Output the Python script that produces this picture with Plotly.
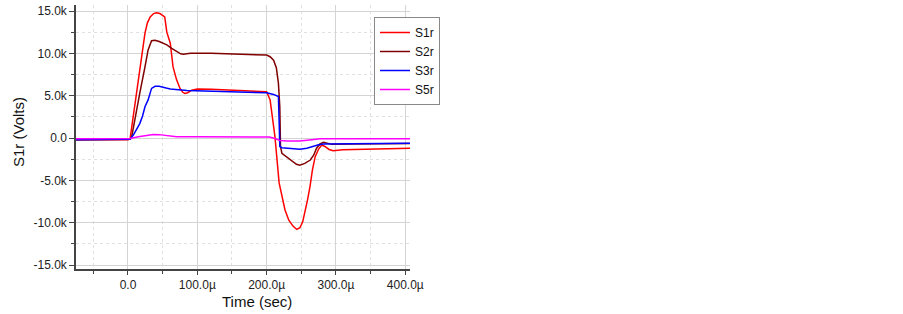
import plotly.graph_objects as go

# Time in microseconds, values in kV
s1_t = [-75, -40, 0, 3, 10, 17, 24.5, 28, 32, 37, 41, 46, 50, 53, 56, 61, 65, 70, 75, 79, 82, 86, 92, 100, 120, 150, 180, 200,
        205, 212, 218, 222, 226.5, 232, 238, 243.4, 248, 252, 255, 259, 262.6, 266, 270, 275, 279.5, 284, 290, 296, 310, 350, 407]
s1_v = [-0.2, -0.2, -0.2, -0.1, 4.0, 8.6, 12.4, 13.6, 14.3, 14.7, 14.8, 14.7, 14.5, 14.3, 12.5, 11.2, 8.4, 6.9, 5.86, 5.4, 5.27, 5.35, 5.66, 5.8, 5.75, 5.65, 5.55, 5.46,
        4.5, 0.15, -5.3, -7.0, -8.5, -9.7, -10.4, -10.8, -10.6, -9.9, -8.9, -7.3, -5.7, -3.8, -2.2, -1.3, -0.83, -1.0, -1.35, -1.5, -1.4, -1.3, -1.2]

s2_t = [-75, -40, 0, 3, 5, 10, 17, 24.5, 29, 34, 39, 45, 56, 63, 70, 76, 80, 90, 120, 150, 180, 195, 200, 205, 210, 214, 217, 219,
        220, 222, 229, 236, 243, 248, 255, 263, 268, 272, 277, 282, 288, 294, 320, 360, 407]
s2_v = [-0.2, -0.2, -0.2, -0.15, 0.0, 2.3, 5.3, 8.4, 10.4, 11.5, 11.55, 11.4, 11.0, 10.6, 10.2, 9.95, 9.9, 10.0, 10.0, 9.95, 9.9, 9.85, 9.8, 9.6, 9.2, 8.3, 6.45, 3.7,
        -1.0, -1.8, -2.2, -2.7, -3.1, -3.2, -3.0, -2.6, -2.0, -1.2, -0.7, -0.5, -0.65, -0.75, -0.72, -0.7, -0.65]

s3_t = [-75, -40, 0, 3, 7.7, 12, 17, 21, 24.5, 29, 34, 39, 45, 55, 61, 85, 120, 160, 200, 210, 217, 218, 219,
        222, 235, 248, 258, 267, 275, 282, 300, 350, 407]
s3_v = [-0.2, -0.2, -0.2, -0.15, 0.35, 1.0, 1.7, 2.6, 3.7, 4.5, 5.86, 6.1, 6.1, 5.9, 5.8, 5.6, 5.55, 5.45, 5.35, 5.15, 4.9, 2.0, -1.0,
        -1.15, -1.25, -1.33, -1.2, -0.95, -0.8, -0.7, -0.7, -0.68, -0.63]

s5_t = [-75, -40, 0, 3, 15, 25, 36.5, 45, 55, 70, 100, 150, 190, 204, 212, 219, 230, 248, 265, 277, 300, 350, 407]
s5_v = [-0.1, -0.1, -0.1, -0.05, 0.15, 0.3, 0.42, 0.4, 0.28, 0.15, 0.15, 0.15, 0.15, 0.13, -0.05, -0.3, -0.35, -0.35, -0.2, -0.08, -0.1, -0.1, -0.1]

names = ["S1r", "S2r", "S3r", "S5r"]
colors = ["#ff0000", "#800000", "#0000ff", "#ff00ff"]

x_tickvals = [0, 100, 200, 300, 400]
x_ticktext = ["0.0", "100.0\u00b5", "200.0\u00b5", "300.0\u00b5", "400.0\u00b5"]
y_tickvals = [-15, -10, -5, 0, 5, 10, 15]
y_ticktext = ["-15.0k", "-10.0k", "-5.0k", "0.0", "5.0k", "10.0k", "15.0k"]

fig = go.Figure()
for t, v, n, c in zip([s1_t, s2_t, s3_t, s5_t], [s1_v, s2_v, s3_v, s5_v], names, colors):
    fig.add_trace(go.Scatter(x=[ti * 1e-6 for ti in t], y=[vi * 1000 for vi in v], mode="lines", name=n,
                             line=dict(color=c, width=1.5)))

W, H = 903, 314
ML, MR, MT, MB = 76, 493, 5, 45
PW, PH = W - ML - MR, H - MT - MB

font = "Liberation Sans, Arial, sans-serif"
fig.update_layout(
    width=W, height=H,
    margin=dict(l=ML, r=MR, t=MT, b=MB),
    plot_bgcolor="white", paper_bgcolor="white",
    font=dict(family=font, size=12, color="#222"),
    showlegend=True,
    legend=dict(x=(374 - ML) / PW, y=1 - (17 - MT) / PH, xanchor="left", yanchor="top", bgcolor="white",
                bordercolor="#888", borderwidth=1, font=dict(size=12, color="#111"),
                tracegroupgap=0, itemwidth=30),
    annotations=[
        dict(text="Time (sec)", x=(257 - ML) / PW, y=1 - (301 - MT) / PH, xref="paper", yref="paper",
             xanchor="center", yanchor="middle", showarrow=False, font=dict(size=15, color="#111")),
        dict(text="S1r (Volts)", x=(18 - ML) / PW, y=1 - (132 - MT) / PH, xref="paper", yref="paper",
             xanchor="center", yanchor="middle", showarrow=False, textangle=-90, font=dict(size=15, color="#111")),
    ],
)

fig.update_xaxes(
    range=[-75e-6, 406.8e-6], automargin=False,
    tickvals=[v * 1e-6 for v in x_tickvals], ticktext=x_ticktext,
    showline=True, linecolor="#444", linewidth=1.5,
    ticks="outside", ticklen=4, tickcolor="#444",
    showgrid=True, gridcolor="#d4d4d4", gridwidth=1, zeroline=False,
    minor=dict(dtick=50e-6, tick0=0, ticks="outside", ticklen=3, tickcolor="#444",
               showgrid=True, gridcolor="#e0e0e0", griddash="dot"),
)
fig.update_yaxes(
    range=[-15470, 15710], automargin=False,
    tickvals=[v * 1000 for v in y_tickvals], ticktext=y_ticktext,
    showline=True, linecolor="#444", linewidth=1.5,
    ticks="outside", ticklen=5, tickcolor="#444",
    showgrid=True, gridcolor="#d4d4d4", gridwidth=1, zeroline=False,
    minor=dict(dtick=2500, tick0=0, ticks="outside", ticklen=3, tickcolor="#444",
               showgrid=True, gridcolor="#e0e0e0", griddash="dot"),
)
fig.write_html("out.html", config={"displayModeBar": False},
               post_script="document.body.style.margin='0';document.body.style.overflow='hidden';")
